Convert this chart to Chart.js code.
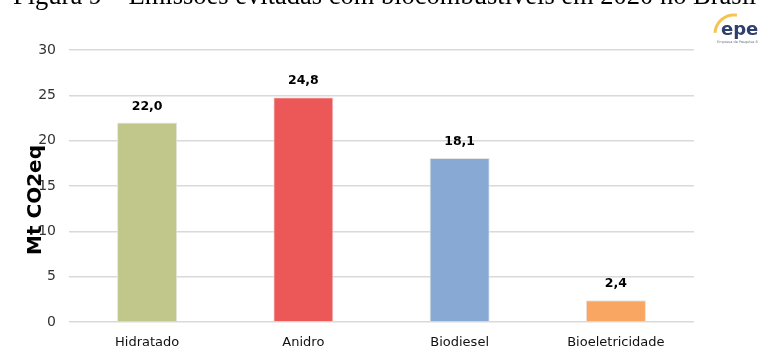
<!DOCTYPE html>
<html>
<head>
<meta charset="utf-8">
<script src="https://cdn.jsdelivr.net/npm/chart.js@4.4.0/dist/chart.umd.min.js"></script>
<style>
  html, body { margin: 0; padding: 0; background: #ffffff; }
  #wrap { width: 758px; height: 349px; position: relative; }
</style>
</head>
<body>
<div id="wrap"><canvas id="chart" width="758" height="349"></canvas></div>
<script>
// Avoided emissions by biofuel, 2020 (Mt CO2eq)
const categories = ['Hidratado', 'Anidro', 'Biodiesel', 'Bioeletricidade'];
const emissions = [22.0, 24.8, 18.1, 2.4];
const barColors = ['#c1c68a', '#ec5757', '#87a9d3', '#f9a662'];
const yTicks = [0, 5, 10, 15, 20, 25, 30];
const figureTitle = 'Figura 9 – Emissões evitadas com biocombustíveis em 2020 no Brasil';
const yTitle = 'Mt CO2eq';

const fmt = v => v.toFixed(1).replace('.', ',');

// Value labels above each bar
const valueLabels = {
  id: 'valueLabels',
  afterDatasetsDraw(chart) {
    const ctx = chart.ctx;
    const meta = chart.getDatasetMeta(0);
    ctx.save();
    ctx.font = 'bold 12.5px "DejaVu Sans"';
    ctx.fillStyle = '#000000';
    ctx.textAlign = 'center';
    ctx.textBaseline = 'middle';
    meta.data.forEach((bar, i) => {
      ctx.fillText(fmt(emissions[i]), bar.x, bar.y - 16);
    });
    ctx.restore();
  }
};

// Figure caption, vertical axis title and publisher mark
const decorations = {
  id: 'decorations',
  afterDraw(chart) {
    const ctx = chart.ctx;
    ctx.save();
    // caption (cropped at the top edge of the page)
    ctx.font = '26.5px "Liberation Serif"';
    ctx.fillStyle = '#000000';
    ctx.textAlign = 'left';
    ctx.textBaseline = 'alphabetic';
    ctx.fillText(figureTitle, 13, 4);

    // rotated axis title
    ctx.save();
    ctx.translate(36, 200);
    ctx.rotate(-Math.PI / 2);
    ctx.font = 'bold 20px "DejaVu Sans"';
    ctx.fillStyle = '#000000';
    ctx.textAlign = 'center';
    ctx.textBaseline = 'middle';
    ctx.fillText(yTitle, 0, 0);
    ctx.restore();

    // epe mark
    const g = ctx.createLinearGradient(712, 14, 730, 36);
    g.addColorStop(0, '#f7b733');
    g.addColorStop(1, '#f5d27a');
    ctx.strokeStyle = g;
    ctx.lineWidth = 3;
    ctx.beginPath();
    ctx.arc(734, 34, 19, Math.PI * 1.02, Math.PI * 1.55);
    ctx.stroke();
    ctx.font = 'bold 18px "DejaVu Sans"';
    ctx.fillStyle = '#2f3f6e';
    ctx.textAlign = 'left';
    ctx.textBaseline = 'alphabetic';
    ctx.fillText('epe', 721, 35);
    ctx.font = '3.5px "DejaVu Sans"';
    ctx.fillStyle = '#6b7590';
    ctx.fillText('Empresa de Pesquisa Energética', 717, 43);
    ctx.restore();
  }
};

new Chart(document.getElementById('chart'), {
  type: 'bar',
  data: {
    labels: categories,
    datasets: [{
      data: emissions,
      backgroundColor: barColors,
      borderColor: '#e6e6e6',
      borderWidth: 1,
      categoryPercentage: 1,
      barPercentage: 0.385
    }]
  },
  options: {
    responsive: false,
    animation: false,
    devicePixelRatio: 1,
    layout: { padding: { top: 50, right: 64, bottom: 0, left: 0 } },
    plugins: {
      legend: { display: false },
      tooltip: { enabled: false },
      title: { display: false }
    },
    scales: {
      x: {
        grid: { display: false },
        border: { display: false },
        ticks: {
          font: { family: 'DejaVu Sans', size: 13 },
          color: '#111111',
          padding: 5,
          maxRotation: 0
        },
        afterFit(scale) { scale.height = 27; }
      },
      y: {
        min: 0,
        max: 30,
        afterBuildTicks(scale) { scale.ticks = yTicks.map(v => ({ value: v })); },
        grid: { color: '#d9d9d9', lineWidth: 1.5, drawTicks: false },
        border: { display: false },
        ticks: {
          font: { family: 'DejaVu Sans', size: 14 },
          color: '#333333',
          padding: 13
        },
        afterFit(scale) { scale.width = 69; }
      }
    }
  },
  plugins: [valueLabels, decorations]
});
</script>
</body>
</html>
